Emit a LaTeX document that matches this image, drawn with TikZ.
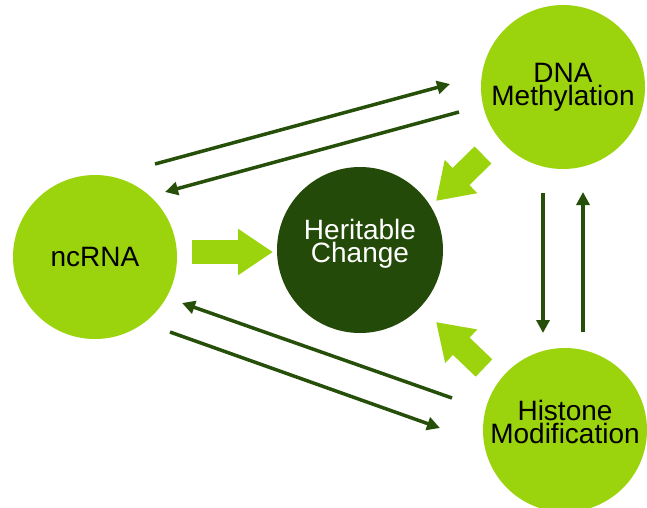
\documentclass[tikz,border=0pt]{standalone}
\usepackage{fontspec}
\setmainfont{Liberation Sans}
\usepackage{tikz}
\usetikzlibrary{positioning, arrows.meta}

\definecolor{limegreen}{RGB}{155,211,12}
\definecolor{forestgreen}{RGB}{35,74,8}
\definecolor{arrowgreen}{RGB}{38,80,10}

\tikzset{
    bubble/.style={circle, fill=limegreen, minimum size=164pt, inner sep=0pt,
        align=center, font=\fontsize{28}{23}\selectfont},
    core/.style={bubble, fill=forestgreen, text=white, minimum size=166pt},
    thin/.style={draw=arrowgreen, line width=3.5pt, -{Triangle[length=13pt, width=13pt]}},
    fat/.style={draw=limegreen, line width=24pt, -{Triangle[length=35pt, width=44pt]}}
}

\begin{document}
\begin{tikzpicture}[x=1pt, y=-1pt]
    \useasboundingbox (0,0) rectangle (647,507);

    % Cerchi
    \node[bubble] (nc) at (95,257) {ncRNA};
    \node[bubble] (dna) at (563,87) {DNA\\Methylation};
    \node[bubble, text depth=16pt] (hm) at (565,430) {Histone\\Modification};
    \node[core, text height=30pt] (hc) at (360,250) {Heritable\\Change};

    % Estremi delle frecce sottili
    \coordinate (ncA) at (155,164);   \coordinate (dnaA) at (450,84);
    \coordinate (dnaB) at (459,112);  \coordinate (ncB) at (165,192);
    \coordinate (hmA) at (452,398);   \coordinate (ncC) at (182,303);
    \coordinate (ncD) at (170,332);   \coordinate (hmB) at (440,428);
    \coordinate (dnaC) at (543,193);  \coordinate (hmC) at (543,333);
    \coordinate (hmD) at (583,332);   \coordinate (dnaD) at (583,192);

    % Frecce sottili
    \draw[thin] (ncA) -- (dnaA);
    \draw[thin] (dnaB) -- (ncB);
    \draw[thin] (hmA) -- (ncC);
    \draw[thin] (ncD) -- (hmB);
    \draw[thin] (dnaC) -- (hmC);
    \draw[thin] (hmD) -- (dnaD);

    % Frecce grosse verso il centro
    \coordinate (ncE) at (192,252);   \coordinate (hcW) at (273,252);
    \coordinate (dnaE) at (483,155);  \coordinate (hcNE) at (436,201);
    \coordinate (hmE) at (484,368);   \coordinate (hcSE) at (436,322);
    \foreach \from/\to in {ncE/hcW, dnaE/hcNE, hmE/hcSE} {
        \draw[fat] (\from) -- (\to);
    }

\end{tikzpicture}
\end{document}
